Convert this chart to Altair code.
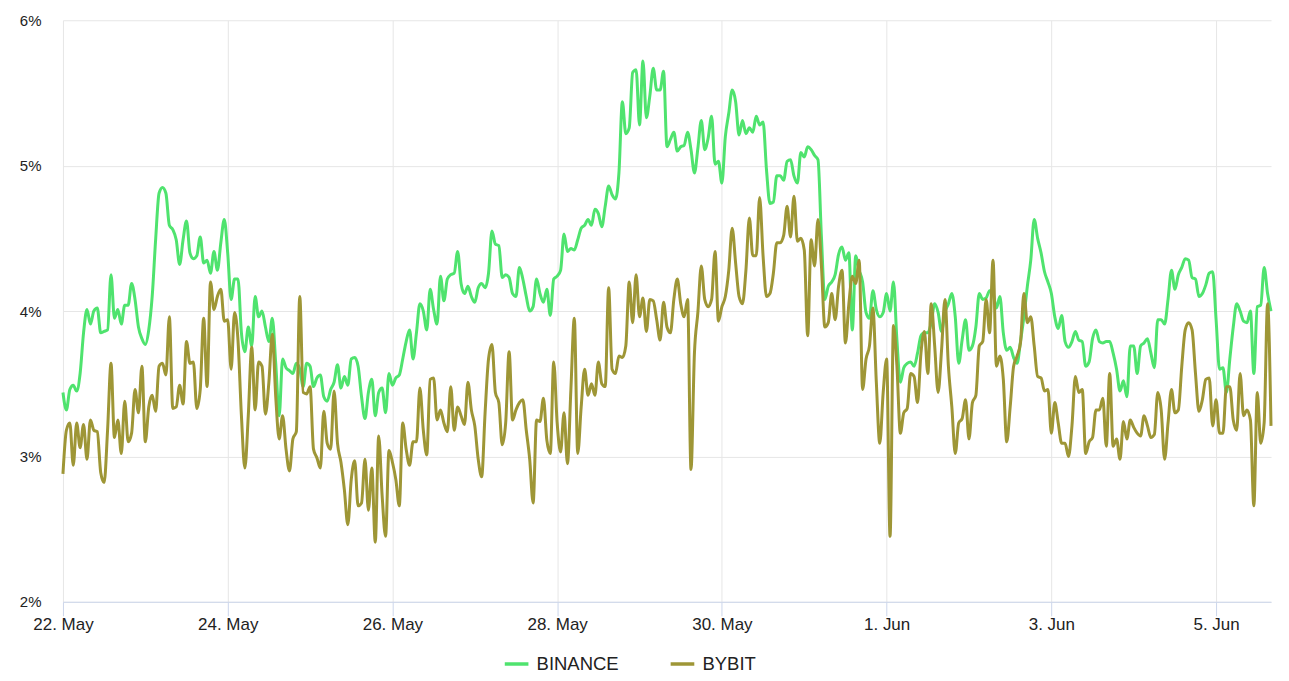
import altair as alt
import pandas as pd

# Hourly funding/ratio values (%), starting 22 May 00:00
binance = [
3.44,3.32,3.46,3.49,3.45,3.57,3.85,4.01,3.91,4.00,4.02,3.85,3.86,3.87,4.25,3.95,4.01,3.91,4.04,4.04,
4.19,4.08,3.89,3.81,3.77,3.87,4.10,4.49,4.81,4.85,4.81,4.59,4.56,4.49,4.32,4.49,4.62,4.40,4.36,4.38,
4.51,4.33,4.35,4.26,4.41,4.28,4.47,4.63,4.40,4.08,4.22,4.22,3.85,3.72,3.89,3.76,4.10,3.96,4.00,3.89,
3.79,3.95,3.64,3.28,3.67,3.61,3.59,3.57,3.64,3.60,3.48,3.64,3.62,3.48,3.54,3.56,3.41,3.38,3.46,3.51,
3.63,3.47,3.55,3.49,3.67,3.68,3.62,3.41,3.26,3.44,3.53,3.28,3.44,3.47,3.30,3.57,3.49,3.54,3.56,3.67,
3.79,3.87,3.67,3.85,4.05,4.00,3.87,4.15,4.01,3.91,4.24,4.07,4.22,4.25,4.26,4.41,4.19,4.12,4.17,4.10,
4.06,4.16,4.19,4.16,4.26,4.55,4.46,4.45,4.23,4.25,4.23,4.12,4.10,4.30,4.22,4.10,4.00,4.03,4.22,4.12,
4.06,4.15,3.97,4.22,4.24,4.28,4.53,4.41,4.43,4.42,4.49,4.57,4.59,4.63,4.59,4.70,4.67,4.58,4.72,4.86,
4.80,4.77,4.95,5.44,5.22,5.26,5.64,5.66,5.28,5.72,5.33,5.48,5.67,5.52,5.52,5.65,5.13,5.18,5.23,5.10,
5.13,5.14,5.23,5.11,4.95,5.12,5.31,5.11,5.19,5.34,5.01,5.03,4.88,5.20,5.36,5.52,5.44,5.21,5.31,5.22,
5.26,5.23,5.34,5.28,5.30,4.97,4.74,4.75,4.93,4.93,4.90,5.03,5.04,4.93,4.88,5.09,5.06,5.13,5.11,5.07,
5.04,4.51,4.08,4.17,4.20,4.25,4.39,4.44,4.35,4.40,3.87,4.38,4.28,4.20,3.99,3.95,4.14,4.01,3.96,3.99,
4.12,4.00,4.20,3.80,3.51,3.61,3.64,3.65,3.62,3.71,3.83,3.85,3.85,3.92,4.05,3.99,3.86,3.99,4.05,4.12,
3.96,3.64,3.80,3.94,3.73,3.76,3.89,4.12,4.08,4.09,4.14,4.12,4.02,4.10,3.85,3.73,3.75,3.68,3.64,3.79,
3.96,4.17,4.35,4.63,4.50,4.40,4.27,4.20,4.12,3.96,3.88,3.97,3.79,3.75,3.79,3.86,3.80,3.79,3.62,3.65,
3.81,3.87,3.79,3.78,3.79,3.79,3.71,3.60,3.45,3.52,3.41,3.76,3.76,3.57,3.76,3.78,3.81,3.71,3.61,3.94,
3.94,3.91,4.08,4.28,4.15,4.25,4.30,4.36,4.35,4.23,4.22,4.10,4.12,4.18,4.26,4.27,3.94,3.60,3.61,3.44,
3.67,3.89,4.05,4.00,3.93,3.92,4.00,3.57,4.03,4.04,4.30,4.12,4.00,
]

bybit = [
2.88,3.18,3.23,2.94,3.23,3.06,3.22,2.98,3.25,3.18,3.17,2.89,2.82,3.18,3.64,3.13,3.25,3.02,3.38,3.10,
3.16,3.46,3.30,3.62,3.10,3.34,3.42,3.31,3.62,3.64,3.56,3.96,3.33,3.34,3.49,3.36,3.79,3.64,3.65,3.33,
3.46,3.95,3.48,4.20,4.01,4.10,4.15,3.93,3.94,3.60,3.99,3.80,3.28,2.92,3.28,3.75,3.32,3.65,3.62,3.29,
3.51,3.84,3.41,3.12,3.28,3.05,2.90,3.12,3.17,4.10,3.44,3.43,3.48,3.05,2.99,2.92,3.31,3.09,3.05,3.45,
3.09,2.96,2.77,2.53,2.84,2.97,2.66,2.68,2.98,2.63,2.92,2.41,3.14,2.73,2.45,3.04,2.96,2.84,2.66,3.23,
3.05,2.94,3.10,3.10,3.47,3.18,3.01,3.53,3.54,3.25,3.32,3.23,3.17,3.48,3.18,3.34,3.28,3.22,3.51,3.32,
3.21,2.98,2.86,3.30,3.67,3.77,3.44,3.37,3.08,3.23,3.72,3.25,3.32,3.37,3.39,3.18,2.98,2.68,3.25,3.24,
3.40,3.11,3.02,3.65,3.23,3.03,3.30,2.95,3.46,3.95,3.02,3.34,3.60,3.42,3.50,3.42,3.65,3.50,3.48,4.16,
3.60,3.57,3.69,3.68,3.76,4.20,3.92,4.25,3.96,4.09,3.86,4.08,4.07,3.94,3.80,4.06,3.89,3.85,4.08,4.22,
4.05,3.96,4.08,2.91,3.71,3.99,4.31,4.08,4.03,4.08,4.41,3.93,4.03,4.10,4.28,4.57,4.33,4.10,4.05,4.28,
4.64,4.38,4.38,4.78,4.38,4.10,4.12,4.26,4.47,4.47,4.52,4.72,4.51,4.79,4.48,4.50,4.42,3.83,4.49,4.31,
4.63,4.31,3.89,3.92,4.12,3.94,4.17,4.28,3.78,4.05,4.24,4.19,4.35,3.46,3.67,3.76,4.02,3.51,3.09,3.44,
3.67,2.45,3.90,3.62,3.16,3.30,3.33,3.57,3.55,3.37,3.71,3.86,3.57,4.05,3.76,3.44,3.73,4.08,3.62,3.34,
3.02,3.23,3.26,3.39,3.12,3.37,3.42,3.76,3.79,4.08,3.85,4.35,3.62,3.69,3.53,3.10,3.34,3.62,3.69,3.78,
4.12,3.92,3.96,3.76,3.55,3.54,3.45,3.46,3.16,3.37,3.23,3.09,3.09,3.00,3.21,3.55,3.44,3.46,3.02,3.10,
3.13,3.32,3.32,3.40,3.07,3.57,3.07,3.12,2.98,3.24,3.12,3.25,3.20,3.16,3.14,3.28,3.21,3.13,3.15,3.44,
3.32,2.98,3.23,3.46,3.30,3.32,3.62,3.87,3.92,3.87,3.57,3.31,3.39,3.53,3.54,3.21,3.39,3.16,3.16,3.48,
3.48,3.25,3.18,3.57,3.28,3.32,3.25,2.66,3.44,3.09,3.23,4.05,3.21,
]

series_names = ["BINANCE", "BYBIT"]
series_colors = ["#4fe36e", "#9e9636"]
y_ticks = [2, 3, 4, 5, 6]
tick_dates = [(5, 22), (5, 24), (5, 26), (5, 28), (5, 30), (6, 1), (6, 3), (6, 5)]

times = pd.date_range("2025-05-22 00:00", periods=len(binance), freq="h")
rows = []
for name, vals in zip(series_names, [binance, bybit]):
    for t, v in zip(times, vals):
        rows.append({"time": t.strftime("%Y-%m-%dT%H:%M:%S"), "value": v, "exchange": name})
df = pd.DataFrame(rows)

FONT = "Liberation Sans"
end_time = times[-1]

x_enc = alt.X(
    "time:T",
    scale=alt.Scale(
        domain=[alt.DateTime(year=2025, month=5, date=22, hours=0),
                alt.DateTime(year=end_time.year, month=end_time.month, date=end_time.day, hours=end_time.hour)],
        nice=False,
    ),
    axis=alt.Axis(
        values=[alt.DateTime(year=2025, month=m, date=d) for m, d in tick_dates],
        format="%-d. %b",
        title=None,
        grid=True,
        gridColor="#e6e6e6",
        domainColor="#ccd6eb",
        tickColor="#ccd6eb",
        tickSize=14,
        labelPadding=1,
        labelFontSize=17,
        labelColor="#222222",
        labelFont=FONT,
        labelFlush=False,
    ),
)

y_enc = alt.Y(
    "value:Q",
    scale=alt.Scale(domain=[2, 6], nice=False, zero=False),
    axis=alt.Axis(
        values=y_ticks,
        labelExpr="datum.value + '%'",
        title=None,
        grid=True,
        gridColor="#e6e6e6",
        domain=False,
        ticks=False,
        labelPadding=22,
        labelFontSize=15,
        labelColor="#222222",
        labelFont=FONT,
    ),
)

chart = alt.Chart(df).mark_line(
    strokeWidth=3, interpolate="monotone"
).encode(
    x=x_enc,
    y=y_enc,
    color=alt.Color(
        "exchange:N",
        scale=alt.Scale(domain=series_names, range=series_colors),
        legend=alt.Legend(
            title=None,
            orient="none",
            legendX=440,
            legendY=630,
            direction="horizontal",
            symbolType="stroke",
            symbolStrokeWidth=3.5,
            symbolSize=560,
            symbolOpacity=1,
            labelFontSize=18.5,
            labelFont=FONT,
            labelColor="#222222",
            labelOffset=6,
            columnPadding=44,
            padding=0,
        ),
    ),
    order=alt.Order("exchange:N"),
).properties(
    width=1209,
    height=582,
    padding={"left": 55, "top": 12, "right": 10, "bottom": 74},
    autosize=alt.AutoSizeParams(type="none"),
).configure_view(strokeWidth=0)

chart.save("out.html", embed_options={"renderer": "svg", "actions": False})
